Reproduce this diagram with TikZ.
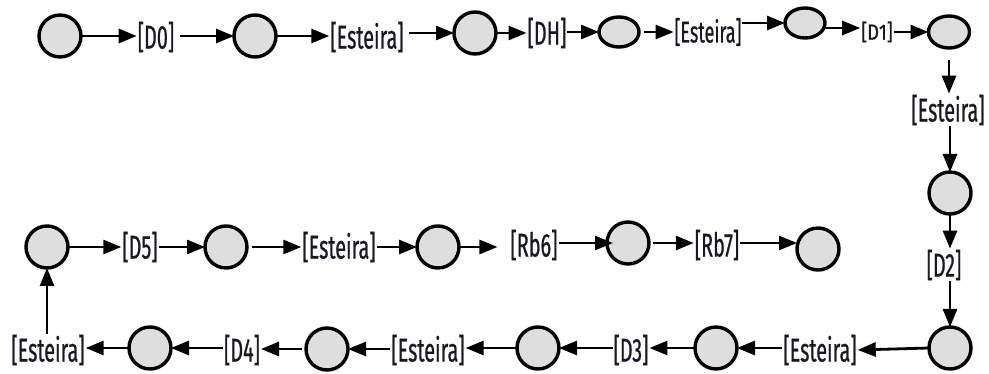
\documentclass[tikz,border=0pt]{standalone}
\usepackage{fontspec}
\setmainfont{Fira Sans}[FakeStretch=0.6,FakeBold=0.6]
\newfontfamily\widerlbl{Fira Sans}[FakeStretch=0.84,FakeBold=0.5]
\usetikzlibrary{arrows.meta,shapes.geometric}
\definecolor{lblink}{RGB}{24,24,40}
\definecolor{statefill}{RGB}{222,222,222}
\begin{document}
\begin{tikzpicture}[x=1pt,y=-1pt,
  state/.style={circle,draw=black,fill=statefill,line width=3.4pt,minimum size=42pt,inner sep=0pt,outer sep=0pt},
  flat/.style={ellipse,draw=black,fill=statefill,line width=3.4pt,minimum width=40pt,minimum height=30pt,inner sep=0pt,outer sep=0pt},
  lbl/.style={text=lblink,inner sep=1pt,outer sep=0pt,font=\fontsize{33}{35}\selectfont},
  small/.style={lbl,font=\fontsize{30}{32}\selectfont},
  tiny/.style={lbl,font=\widerlbl\fontsize{22}{24}\selectfont},
  edge/.style={line width=2.8pt,-{Triangle[length=18pt,width=14pt]}}
]
\useasboundingbox (0,0) rectangle (989,374);

% top row
\node[state] (s1) at (60,36) {};
\node[lbl] (d0) at (156,37) {[D0]};
\node[state] (s2) at (255,36) {};
\node[lbl] (e1) at (367,37) {[Esteira]};
\node[state] (s3) at (475,33) {};
\node[lbl] (dh) at (547,33) {[DH]};
\node[flat] (s4) at (619,32) {};
\node[small] (e2) at (708,32) {[Esteira]};
\node[flat] (s5) at (805,23) {};
\node[tiny] (d1) at (877,32) {[D1]};
\node[flat,minimum width=41pt,minimum height=32pt] (s6) at (949,32) {};

% right column
\node[lbl] (e3) at (948,110) {[Esteira]};
\node[state] (s7) at (950,193) {};
\node[lbl] (d2) at (944,265) {[D2]};
\node[state] (s8) at (950,348) {};

% bottom row, running leftwards
\node[lbl] (e4) at (820,350) {[Esteira]};
\node[state] (s9) at (716,348) {};
\node[lbl] (d3) at (631,350) {[D3]};
\node[state] (s10) at (538,348) {};
\node[lbl] (e5) at (428,350) {[Esteira]};
\node[state] (s11) at (327,349) {};
\node[lbl] (d4) at (242,350) {[D4]};
\node[state] (s12) at (150,348) {};
\node[lbl] (e6) at (48,350) {[Esteira]};

% middle row
\node[state] (s13) at (47,247) {};
\node[lbl] (d5) at (140,247) {[D5]};
\node[state] (s14) at (226,247) {};
\node[lbl] (e7) at (339,247) {[Esteira]};
\node[state] (s15) at (438,247) {};
\node[lbl] (rb6) at (534,245) {[Rb6]};
\node[state] (s16) at (628,243) {};
\node[lbl] (rb7) at (717,245) {[Rb7]};
\node[state] (s17) at (818,249) {};

% connectors
\draw[edge] (s1) -- (d0.west |- s1);
\draw[edge,shorten <=5pt] (d0.east |- s2) -- (s2.west);
\draw[edge] (s2) -- (e1.west |- s2);
\draw[edge,shorten <=4pt] (e1.east |- s3) -- (s3.west);
\draw[edge] (s3) -- (dh.west |- s3);
\draw[edge] (dh.east |- s4) -- (s4.west);
\draw[edge,shorten <=5pt] (s4.east) -- (e2.west |- s4);
\draw[edge] (e2.east |- s5) -- (s5.west);
\draw[edge] (s5.east |- d1) ++(0,-4) coordinate (a1) -- (d1.west |- a1);
\draw[edge] (d1.east |- s6) -- (s6.west);

\draw[edge,shorten <=12pt] (s6.south) -- (e3.north -| s6);
\draw[edge] (e3.south -| s7) -- (s7.north);
\draw[edge] (s7.south) -- (d2.north -| s7);
\draw[edge] (d2.south -| s8) -- (s8.north);
\draw[edge] (s8.west) -- (e4.east);

\draw[edge] (e4.west |- s9) -- (s9.east);
\draw[edge] (s9.west) -- (d3.east |- s9);
\draw[edge] (d3.west |- s10) -- (s10.east);
\draw[edge] (s10.west) -- (e5.east |- s10);
\draw[edge] (e5.west |- s11) -- (s11.east);
\draw[edge,shorten <=4pt] (s11.west) -- (d4.east |- s11);
\draw[edge] (d4.west |- s12) -- (s12.east);
\draw[edge] (s12.west) -- (e6.east |- s12);
\draw[edge] (e6.north -| s13) -- (s13.south);

\draw[edge] (s13.east) -- (d5.west |- s13);
\draw[edge] (d5.east |- s14) -- (s14.west);
\draw[edge,shorten <=5pt] (s14.east) -- (e7.west |- s14);
\draw[edge] (e7.east |- s15) -- (s15.west);
\draw[edge,shorten >=12pt] (s15.east) -- (rb6.west |- s15);
\draw[edge,shorten >=-6pt] (rb6.east |- s16) -- (s16.west);
\draw[edge,shorten <=4pt] (s16.east) -- (rb7.west |- s16);
\draw[edge] (rb7.east |- s16) -- (s17.west |- s16);
\end{tikzpicture}
\end{document}
